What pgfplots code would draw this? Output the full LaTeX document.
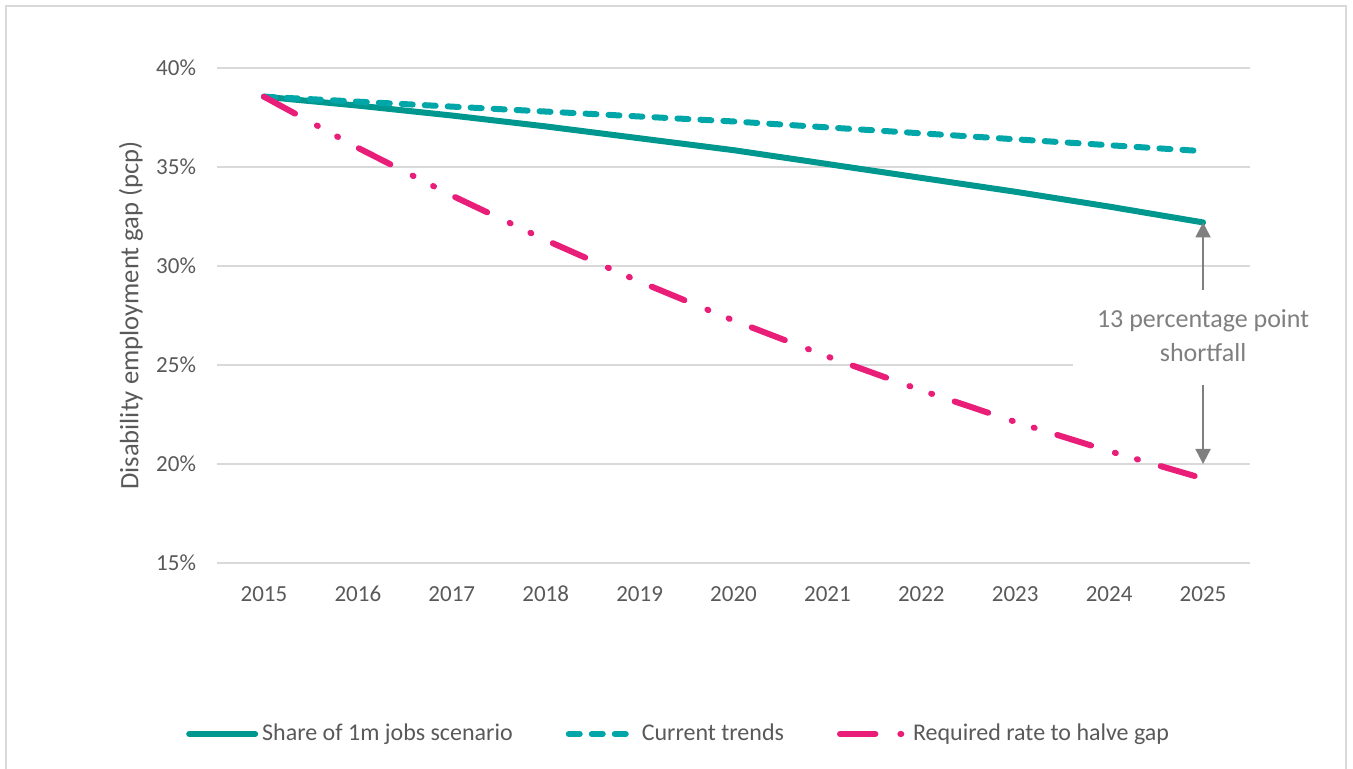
\documentclass[border=0pt]{standalone}
\usepackage{fontspec}
\setmainfont{Carlito}
\usepackage{pgfplots}
\pgfplotsset{compat=1.18}
\usetikzlibrary{arrows.meta}

\definecolor{tealsolid}{HTML}{00978F}
\definecolor{tealdash}{HTML}{00A6A8}
\definecolor{pinkline}{HTML}{E91E78}
\definecolor{gridgray}{HTML}{D9D9D9}
\definecolor{textgray}{HTML}{595959}
\definecolor{annotgray}{HTML}{7F7F7F}

\begin{document}
\begin{tikzpicture}
    % outer frame
    \draw[gridgray, line width=1pt] (3pt,-2pt) rectangle (673pt,381.5pt);

    \begin{axis}[
        at={(108.5pt,103pt)}, anchor=south west,
        scale only axis,
        width=516.5pt, height=247.5pt,
        xmin=2014.5, xmax=2025.5,
        ymin=15, ymax=40,
        xtick={2015,2016,2017,2018,2019,2020,2021,2022,2023,2024,2025},
        xticklabels={2015,2016,2017,2018,2019,2020,2021,2022,2023,2024,2025},
        ytick={15,20,25,30,35,40},
        yticklabels={15\%,20\%,25\%,30\%,35\%,40\%},
        axis line style={draw=none},
        major tick length=0pt,
        ymajorgrids,
        grid style={gridgray, line width=0.75pt},
        tick label style={font=\fontsize{11.5}{13}\selectfont, text=textgray},
        yticklabel style={xshift=-7pt},
        xticklabel style={anchor=base, yshift=-19.5pt},
        ylabel={Disability employment gap (pcp)},
        ylabel style={at={(axis description cs:0,0.5)}, anchor=center,
            yshift=43pt, font=\fontsize{13.3}{15}\selectfont, text=textgray},
        clip=false,
        legend columns=3,
        legend image code/.code={\draw[#1] (0pt,0pt) -- (33pt,0pt);},
        legend style={draw=none, fill=none,
            at={(axis description cs:-0.036,-0.3455)}, anchor=west,
            font=\fontsize{12}{14}\selectfont, text=textgray,
            /tikz/every even column/.append style={column sep=24.5pt}},
        legend cell align=left,
    ]

    % Share of 1m jobs scenario
    \addplot[tealsolid, line width=3pt, line cap=round] coordinates {
        (2015,38.55) (2016,38.10) (2017,37.60) (2018,37.05) (2019,36.45)
        (2020,35.85) (2021,35.15) (2022,34.45) (2023,33.75) (2024,33.00)
        (2025,32.20)
    };
    \addlegendentry{Share of 1m jobs scenario}

    % Current trends
    \addplot[tealdash, line width=3pt, line cap=round,
        dash pattern=on 5.5pt off 6pt] coordinates {
        (2015,38.55) (2016,38.30) (2017,38.05) (2018,37.80) (2019,37.55)
        (2020,37.30) (2021,37.00) (2022,36.70) (2023,36.40) (2024,36.10)
        (2025,35.80)
    };
    \addlegendentry{Current trends}

    % Required rate to halve gap
    \addplot[pinkline, line width=3pt, line cap=round,
        dash pattern=on 17.7pt off 12.45pt on 0.5pt off 11pt on 0.5pt off 11.85pt] coordinates {
        (2015,38.55) (2016,35.97) (2017,33.56) (2018,31.31) (2019,29.21)
        (2020,27.25) (2021,25.43) (2022,23.72) (2023,22.13) (2024,20.65)
        (2025,19.27)
    };
    \addlegendentry{Required rate to halve gap}

    % shortfall annotation
    \node[fill=white, align=center, inner sep=0pt, text=annotgray,
        font=\fontsize{13}{17}\selectfont,
        minimum width=130pt, minimum height=47pt]
        at (axis cs:2025,26.5) {13 percentage point\\shortfall};
    \draw[annotgray, line width=1pt, -{Triangle[width=7.5pt,length=7.5pt]}]
        (axis cs:2025,28.79) -- (axis cs:2025,32.2);
    \draw[annotgray, line width=1pt, -{Triangle[width=7.5pt,length=7.5pt]}]
        (axis cs:2025,23.99) -- (axis cs:2025,20.0);

    \end{axis}

    \pgfresetboundingbox
    \useasboundingbox (0pt,0pt) rectangle (676.5pt,384.5pt);
\end{tikzpicture}
\end{document}
